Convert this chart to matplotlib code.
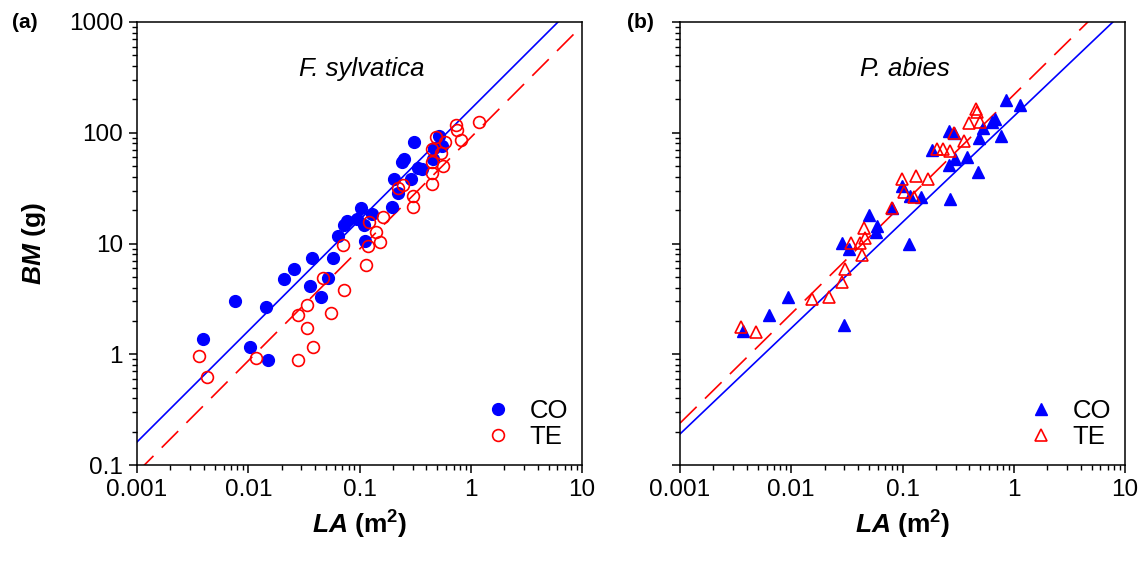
import numpy as np
import matplotlib
matplotlib.use('Agg')
import matplotlib.pyplot as plt
from matplotlib.ticker import LogLocator, FixedLocator, NullFormatter

plt.rcParams['font.family'] = ['Liberation Sans', 'DejaVu Sans']
plt.rcParams['mathtext.fontset'] = 'custom'
plt.rcParams['mathtext.rm'] = 'Liberation Sans'
plt.rcParams['mathtext.bf'] = 'Liberation Sans:bold'
plt.rcParams['mathtext.bfit'] = 'Liberation Sans:bold:italic'

# (a) F. sylvatica, leaf area (m2) vs biomass (g)
fs_co_la = [0.0039, 0.0076, 0.0104, 0.0145, 0.0151, 0.0209, 0.0258, 0.0374, 0.0359, 0.0451,
            0.0521, 0.0578, 0.0641, 0.0726, 0.0773, 0.0951, 0.103, 0.110, 0.112, 0.129,
            0.196, 0.222, 0.204, 0.290, 0.241, 0.251, 0.309, 0.336, 0.365, 0.458,
            0.468, 0.519, 0.552]
fs_co_bm = [1.36, 3.0, 1.16, 2.65, 0.88, 4.74, 5.83, 7.33, 4.1, 3.26,
            4.84, 7.33, 11.8, 14.8, 15.8, 16.8, 21.1, 14.8, 10.6, 18.6,
            21.5, 28.8, 38.5, 38.5, 54.8, 58.3, 83.0, 48.4, 47.4, 58.3,
            73.3, 94.0, 76.0]
fs_te_la = [0.0036, 0.00426, 0.0118, 0.028, 0.0382, 0.0337, 0.028, 0.0337, 0.0555, 0.047,
            0.0726, 0.0711, 0.114, 0.119, 0.1216, 0.1406, 0.153, 0.1626, 0.222, 0.246,
            0.303, 0.303, 0.449, 0.449, 0.564, 0.541, 0.449, 0.488, 0.588, 0.736,
            0.752, 0.817, 1.186, 0.449]
fs_te_bm = [0.96, 0.62, 0.92, 0.88, 1.16, 1.72, 2.25, 2.76, 2.34, 4.84,
            3.77, 9.6, 6.34, 9.4, 15.5, 12.6, 10.4, 17.5, 32.0, 34.0,
            27.0, 21.5, 34.7, 43.6, 50.4, 66.0, 71.8, 92.0, 83.0, 118.0,
            106.0, 86.5, 126.0, 54.8]

# (b) P. abies
pa_co_la = [0.00368, 0.0063, 0.00935, 0.0298, 0.0286, 0.033, 0.050, 0.059, 0.0578, 0.0805,
            0.114, 0.099, 0.1167, 0.1466, 0.267, 0.184, 0.262, 0.290, 0.297, 0.262,
            0.380, 0.478, 0.488, 0.530, 0.637, 0.677, 0.767, 0.851, 1.14]
pa_co_bm = [1.61, 2.25, 3.26, 1.83, 10.2, 8.83, 18.2, 14.5, 12.6, 21.1,
            10.0, 33.3, 27.0, 26.5, 25.4, 70.3, 104.0, 100.0, 58.3, 51.5,
            60.8, 44.5, 90.2, 111.0, 126.0, 134.0, 94.0, 198.0, 179.0]
pa_te_la = [0.00353, 0.00482, 0.0154, 0.0218, 0.0286, 0.0304, 0.0344, 0.0432, 0.0415, 0.046,
            0.0451, 0.0805, 0.099, 0.103, 0.132, 0.127, 0.169, 0.204, 0.231, 0.267,
            0.290, 0.357, 0.396, 0.458, 0.468, 0.498]
pa_te_bm = [1.75, 1.58, 3.13, 3.26, 4.45, 5.83, 10.2, 7.8, 10.2, 11.1,
            13.9, 21.1, 38.5, 29.4, 41.0, 26.5, 38.5, 71.8, 71.8, 68.9,
            100.0, 84.7, 123.0, 164.0, 155.0, 126.0]

# log10(BM) = a + b * log10(LA)
fits = {
    'a': {'CO': (2.214, 1.002), 'TE': (1.957, 1.008)},
    'b': {'CO': (2.148, 0.956), 'TE': (2.342, 0.988)},
}

fig = plt.figure(figsize=(11.41, 5.64), dpi=100)
ax_a = fig.add_axes([137/1141, 1-465/564, 445/1141, 443/564])
ax_b = fig.add_axes([680/1141, 1-465/564, 445/1141, 443/564])

xline = np.logspace(-3, 1, 200)
TICK_FS = 17.5
LAB_FS = 19


def style_axis(ax, show_ylabels):
    ax.set_xscale('log')
    ax.set_yscale('log')
    ax.set_xlim(0.001, 10)
    ax.set_ylim(0.1, 1000)
    ax.xaxis.set_major_locator(FixedLocator([0.001, 0.01, 0.1, 1, 10]))
    ax.yaxis.set_major_locator(FixedLocator([0.1, 1, 10, 100, 1000]))
    ax.xaxis.set_minor_locator(LogLocator(base=10, subs=np.arange(2, 10)))
    ax.yaxis.set_minor_locator(LogLocator(base=10, subs=np.arange(2, 10)))
    ax.xaxis.set_minor_formatter(NullFormatter())
    ax.yaxis.set_minor_formatter(NullFormatter())
    ax.set_xticklabels(['0.001', '0.01', '0.1', '1', '10'])
    if show_ylabels:
        ax.set_yticklabels(['0.1', '1', '10', '100', '1000'])
    else:
        ax.set_yticklabels([])
    ax.tick_params(which='major', direction='out', length=6, width=1.1, labelsize=TICK_FS,
                   top=False, right=False, pad=4)
    ax.tick_params(which='minor', direction='out', length=3.5, width=1.0,
                   top=False, right=False)
    for s in ax.spines.values():
        s.set_linewidth(1.1)
    ax.set_xlabel(r'$\mathbfit{LA}$ (m$\mathbf{^2}$)', fontsize=LAB_FS, fontweight='bold')
    ax.xaxis.set_label_coords(0.5, -0.098)


def add_legend(ax):
    ax.legend(loc='lower right', frameon=False, fontsize=LAB_FS - 0.5,
              handletextpad=0.5, handlelength=1.4, labelspacing=0.05,
              bbox_to_anchor=(1.02, -0.015))


style_axis(ax_a, True)
style_axis(ax_b, False)

# panel a
a, b = fits['a']['CO']
ax_a.plot(xline, 10**(a + b*np.log10(xline)), color='blue', lw=1.2)
a, b = fits['a']['TE']
ax_a.plot(xline, 10**(a + b*np.log10(xline)), color='red', lw=1.2, dashes=(14, 7))
ax_a.plot(fs_co_la, fs_co_bm, 'o', color='blue', ms=8.5, mec='blue', label='CO')
ax_a.plot(fs_te_la, fs_te_bm, 'o', mfc='none', mec='red', ms=8.5, mew=1.2, label='TE')
ax_a.text(0.506, 0.893, 'F. sylvatica', style='italic', fontsize=LAB_FS - 0.5,
          ha='center', va='center', transform=ax_a.transAxes)
ax_a.set_ylabel(r'$\mathbfit{BM}$ (g)', fontsize=LAB_FS, fontweight='bold')
ax_a.yaxis.set_label_coords(-0.2, 0.5)
add_legend(ax_a)

# panel b
a, b = fits['b']['CO']
ax_b.plot(xline, 10**(a + b*np.log10(xline)), color='blue', lw=1.2)
a, b = fits['b']['TE']
ax_b.plot(xline, 10**(a + b*np.log10(xline)), color='red', lw=1.2, dashes=(14, 7))
ax_b.plot(pa_co_la, pa_co_bm, '^', color='blue', ms=9, mec='blue', label='CO')
ax_b.plot(pa_te_la, pa_te_bm, '^', mfc='none', mec='red', ms=9, mew=1.2, label='TE')
ax_b.text(0.506, 0.893, 'P. abies', style='italic', fontsize=LAB_FS - 0.5,
          ha='center', va='center', transform=ax_b.transAxes)
add_legend(ax_b)

fig.text(25/1141, 1-22/564, '(a)', fontsize=15, fontweight='bold', ha='center', va='center')
fig.text(640/1141, 1-22/564, '(b)', fontsize=15, fontweight='bold', ha='center', va='center')

fig.savefig('out.png', dpi=100)
